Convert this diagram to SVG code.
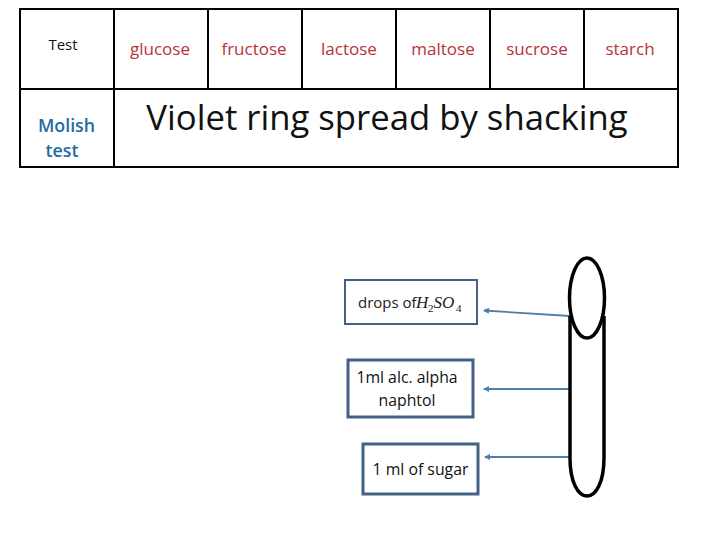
<svg xmlns="http://www.w3.org/2000/svg" width="720" height="540" viewBox="0 0 720 540">
<defs>
<marker id="arrow" markerUnits="userSpaceOnUse" markerWidth="8" markerHeight="8" refX="1" refY="4" orient="auto"><path d="M0 4L6 1V7Z" fill="#4f7ea8"/></marker>
</defs>
<style>
text{font-family:"Open Sans","Noto Sans",sans-serif;}
.grid{stroke:#000;stroke-width:2;fill:none}
.sugar{font-size:17px;fill:#b8323a;text-anchor:middle}
.box{fill:#fff;stroke:#436086}
.lbl{font-size:15.800px;fill:#111;text-anchor:middle}
.conn{stroke:#4f7ea8;stroke-width:1.800;fill:none;marker-start:url(#arrow)}
.tube{fill:none;stroke:#000;stroke-width:3.500}
.math{font-family:"Liberation Serif",serif;fill:#222}
</style>
<rect width="720" height="540" fill="#fff"/>
<g id="table">
<rect class="grid" x="20" y="9" width="658" height="158"/>
<path class="grid" d="M20 89H678M114 9V167M208 9V89M302 9V89M396 9V89M490 9V89M584 9V89"/>
</g>
<g id="cell-test"><text x="63" y="50" font-size="15" text-anchor="middle" fill="#111">Test</text></g>
<g id="cell-glucose"><text class="sugar" x="160" y="55">glucose</text></g>
<g id="cell-fructose"><text class="sugar" x="254" y="55">fructose</text></g>
<g id="cell-lactose"><text class="sugar" x="349" y="55">lactose</text></g>
<g id="cell-maltose"><text class="sugar" x="443" y="55">maltose</text></g>
<g id="cell-sucrose"><text class="sugar" x="537" y="55">sucrose</text></g>
<g id="cell-starch"><text class="sugar" x="630" y="55">starch</text></g>
<g id="cell-molish"><text font-size="17.800" font-weight="600" fill="#1f6ca3" x="66.500" y="132" text-anchor="middle">Molish</text><text font-size="17.800" font-weight="600" fill="#1f6ca3" x="62" y="157" text-anchor="middle">test</text></g>
<g id="cell-result"><text x="387" y="130" font-size="34.700" fill="#111" text-anchor="middle">Violet ring spread by shacking</text></g>
<g id="node-h2so4"><rect class="box" x="345" y="280" width="132" height="44" stroke-width="2"/><text x="358" y="308" font-size="15" fill="#222">drops of</text><text class="math" x="416" y="308" font-size="17" font-style="italic">H</text><text class="math" x="428" y="312" font-size="11">2</text><text class="math" x="433.500" y="308" font-size="17" font-style="italic">SO</text><text class="math" x="456" y="312" font-size="11">4</text></g>
<g id="node-naphtol"><rect class="box" x="348" y="360" width="125" height="57" stroke-width="3"/><text class="lbl" x="407" y="383">1ml alc. alpha</text><text class="lbl" x="407" y="406">naphtol</text></g>
<g id="node-sugar"><rect class="box" x="363" y="444" width="115" height="50" stroke-width="3"/><text class="lbl" x="420.500" y="475">1 ml of sugar</text></g>
<g id="connectors">
<path class="conn" d="M484 310.500L570 316"/>
<path class="conn" d="M484 389H570"/>
<path class="conn" d="M485 457H570"/>
</g>
<g id="test-tube">
<path class="tube" d="M570 316V458C570 482 578 496 587 496C596 496 604 482 604 458V316"/>
<ellipse class="tube" cx="587" cy="298" rx="17.500" ry="40"/>
</g>
</svg>
